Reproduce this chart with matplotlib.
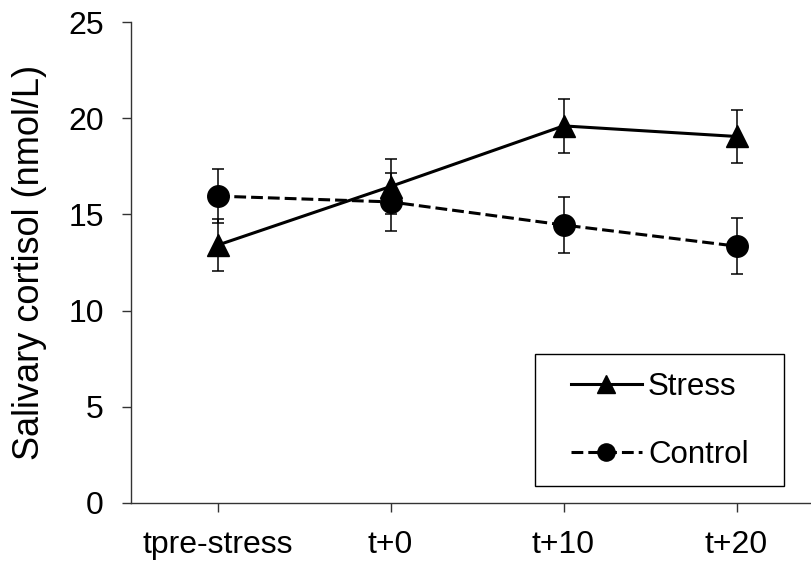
import numpy as np
import matplotlib.pyplot as plt
from matplotlib.patches import Rectangle

plt.rcParams['font.family'] = ['Liberation Sans', 'DejaVu Sans']
plt.rcParams['lines.scale_dashes'] = False

# ── Data ─────────────────────────────────────────────────────────────────────
categories = ["tpre-stress", "t+0", "t+10", "t+20"]
stress     = [13.4, 16.45, 19.6, 19.05]
stress_se  = [1.35, 1.45, 1.4, 1.4]
control    = [15.95, 15.65, 14.45, 13.35]
control_se = [1.4, 1.5, 1.45, 1.45]

W, H = 811, 561
fig = plt.figure(figsize=(W / 100, H / 100), dpi=100)
ax = fig.add_axes([131 / W, 58 / H, 692 / W, 481 / H])

x = np.arange(len(categories))
DASH = (0, (8.5, 3.6))

# error bars
for vals, se in [(stress, stress_se), (control, control_se)]:
    ax.errorbar(x, vals, yerr=se, fmt='none', ecolor='black',
                elinewidth=1.1, capsize=4.2, capthick=1.1, zorder=2)

l_stress, = ax.plot(x, stress, color='black', lw=2.2, marker='^', ms=16.5,
                    label='Stress', zorder=3)
l_ctrl, = ax.plot(x, control, color='black', lw=2.2, ls=DASH, marker='o',
                  ms=15.5, label='Control', zorder=3)

ax.set_xlim(-0.5, 3.5)
ax.set_ylim(0, 25)
ax.set_yticks(range(0, 26, 5))
ax.set_xticks(x, categories)

ax.spines[["top", "right"]].set_visible(False)
for s in ("left", "bottom"):
    ax.spines[s].set_color('#333333')
    ax.spines[s].set_linewidth(1)
ax.tick_params(direction='out', length=6.5, width=1, color='#333333',
               labelsize=23)
ax.tick_params(axis='y', pad=13)
ax.tick_params(axis='x', pad=13)

ax.set_ylabel('Salivary cortisol (nmol/L)', fontsize=26)
ax.yaxis.set_label_coords(-0.122, 0.5)

# legend (frame drawn separately so the padding can match)
fig.add_artist(Rectangle((535 / W, 1 - 486 / H), 249 / W, 132 / H,
                         transform=fig.transFigure, fill=False,
                         ec='black', lw=1))
fig.legend(handles=[l_stress, l_ctrl], loc='center left',
           bbox_to_anchor=(570.7 / W, 1 - 421 / H), frameon=False,
           fontsize=22.5, handlelength=2.27, handletextpad=0.2,
           labelspacing=1.2, borderpad=0, borderaxespad=0, markerscale=0.8)

plt.savefig("out.png", dpi=100)
